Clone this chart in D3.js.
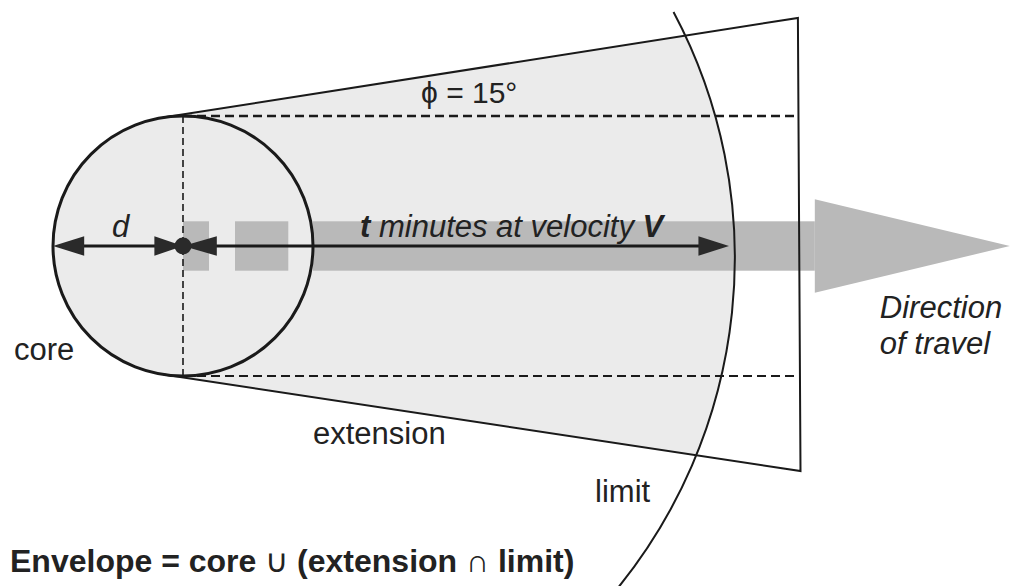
<!DOCTYPE html>
<html>
<head>
<meta charset="utf-8">
<script src="https://cdn.jsdelivr.net/npm/d3@7"></script>
<style>
  html, body { margin: 0; padding: 0; background: #fff; }
  svg { display: block; }
  text { font-family: "Liberation Sans", Arial, Helvetica, sans-serif; fill: #222; }
</style>
</head>
<body>
<svg id="chart" width="1011" height="586"></svg>
<script>
// ---- diagram data (units: core radius d = 1) ----
const coreRadius = [1];
const extensionCorners = [[4.73, 1.754], [4.75, -1.731]];   // far corners of the extension wedge
const limitCircle = [0.215, -0.092, 4.03];                  // centre x, centre y, radius
const limitAngles = [-28.0, 40];                            // visible arc (degrees)
const velocityArrow = [-1, 4.2];                            // from core edge to end of t·V
const bandSegments = [[0, 0.2], [0.4, 0.81], [1.0, 4.86]];  // grey direction-of-travel band
const bandHalf = [0.19];
const bandHead = [4.86, 6.36, 0.36];                        // base x, tip x, half height
const labels = [
  { text: "core", x: -1.3, y: -0.88, size: 31, style: "normal", weight: "normal" },
  { text: "extension", x: 1.0, y: -1.52, size: 31, style: "normal", weight: "normal" },
  { text: "limit", x: 3.17, y: -1.97, size: 31, style: "normal", weight: "normal" },
  { text: "Direction", x: 5.36, y: -0.55, size: 31, style: "italic", weight: "normal" },
  { text: "of travel", x: 5.36, y: -0.83, size: 31, style: "italic", weight: "normal" }
];

// ---- scales ----
const x = d3.scaleLinear().domain([0, 1]).range([183, 313]);
const y = d3.scaleLinear().domain([0, 1]).range([246, 116]);
const px = v => x(v) - x(0);

const svg = d3.select("#chart");
const R = coreRadius[0];

// tangent points from an external point to the core
function tangent(P, sign) {
  const d = Math.hypot(P[0], P[1]);
  const th = Math.atan2(P[1], P[0]);
  const b = Math.acos(R / d);
  const a = th + sign * b;
  return [R * Math.cos(a), R * Math.sin(a)];
}
const T1 = tangent(extensionCorners[0], 1);
const T2 = tangent(extensionCorners[1], -1);

const defs = svg.append("defs");
defs.append("clipPath").attr("id", "limitClip")
  .append("circle")
  .attr("cx", x(limitCircle[0])).attr("cy", y(limitCircle[1])).attr("r", px(limitCircle[2]));

const fillCol = "#ebebeb";
const line = d3.line().x(d => x(d[0])).y(d => y(d[1]));

// extension ∩ limit
svg.append("path")
  .attr("clip-path", "url(#limitClip)")
  .attr("d", line([[0, 0], T1, extensionCorners[0], extensionCorners[1], T2]) + "Z")
  .attr("fill", fillCol);
// core
svg.append("circle").attr("cx", x(0)).attr("cy", y(0)).attr("r", px(R)).attr("fill", fillCol);

// grey band
const bandCol = "#b9b9b9";
svg.selectAll("rect.band").data(bandSegments).join("rect")
  .attr("class", "band")
  .attr("x", d => x(d[0])).attr("width", d => x(d[1]) - x(d[0]))
  .attr("y", y(bandHalf[0])).attr("height", y(-bandHalf[0]) - y(bandHalf[0]))
  .attr("fill", bandCol);
svg.append("path")
  .attr("d", line([[bandHead[0], bandHead[2]], [bandHead[1], 0], [bandHead[0], -bandHead[2]]]) + "Z")
  .attr("fill", bandCol);

// dashed guides
svg.append("path").attr("d", line([[0, R], [extensionCorners[0][0], R]]))
  .attr("stroke", "#1a1a1a").attr("stroke-width", 2.4).attr("stroke-dasharray", "9,5").attr("fill", "none");
svg.append("path").attr("d", line([[0, -R], [extensionCorners[0][0], -R]]))
  .attr("stroke", "#1a1a1a").attr("stroke-width", 1.8).attr("stroke-dasharray", "9,5").attr("fill", "none");
svg.append("path").attr("d", line([[0, R], [0, -R]]))
  .attr("stroke", "#1a1a1a").attr("stroke-width", 1.6).attr("stroke-dasharray", "7,4").attr("fill", "none");

// extension wedge outline
svg.append("path").attr("d", line([T1, extensionCorners[0], extensionCorners[1], T2]))
  .attr("stroke", "#1a1a1a").attr("stroke-width", 2).attr("fill", "none");

// core outline
svg.append("circle").attr("cx", x(0)).attr("cy", y(0)).attr("r", px(R))
  .attr("fill", "none").attr("stroke", "#1a1a1a").attr("stroke-width", 3);

// limit arc
const arcPath = d3.path();
arcPath.arc(x(limitCircle[0]), y(limitCircle[1]), px(limitCircle[2]),
  limitAngles[0] * Math.PI / 180, limitAngles[1] * Math.PI / 180);
svg.append("path").attr("d", arcPath.toString())
  .attr("fill", "none").attr("stroke", "#1a1a1a").attr("stroke-width", 2);

// velocity / diameter arrow
svg.append("path").attr("d", line([[velocityArrow[0] + 0.1, 0], [velocityArrow[1] - 0.1, 0]]))
  .attr("stroke", "#1a1a1a").attr("stroke-width", 3.2);
const hh = 0.075;
const heads = [
  [[velocityArrow[0], 0], [velocityArrow[0] + 0.24, hh], [velocityArrow[0] + 0.24, -hh]],
  [[0, 0], [-0.22, hh], [-0.22, -hh]],
  [[0, 0], [0.26, hh], [0.26, -hh]],
  [[velocityArrow[1], 0], [velocityArrow[1] - 0.235, hh], [velocityArrow[1] - 0.235, -hh]]
];
svg.selectAll("path.head").data(heads).join("path")
  .attr("class", "head").attr("d", d => line(d) + "Z").attr("fill", "#2a2a2a");
svg.append("circle").attr("cx", x(0)).attr("cy", y(0)).attr("r", 8.5).attr("fill", "#2a2a2a");

// labels
svg.selectAll("text.lbl").data(labels).join("text")
  .attr("class", "lbl")
  .attr("x", d => x(d.x)).attr("y", d => y(d.y))
  .attr("font-size", d => d.size).attr("font-style", d => d.style).attr("font-weight", d => d.weight)
  .text(d => d.text);

svg.append("text").attr("x", 112).attr("y", 237).attr("font-size", 31).attr("font-style", "italic").text("d");

const tv = svg.append("text").attr("x", 360).attr("y", 237).attr("font-size", 31).attr("font-style", "italic");
tv.append("tspan").attr("font-weight", "bold").text("t");
tv.append("tspan").text(" minutes at velocity ");
tv.append("tspan").attr("font-weight", "bold").text("V");

svg.append("text").attr("x", 421).attr("y", 103).attr("font-size", 30).text("ϕ = 15°");

const env = svg.append("text").attr("x", 10).attr("y", 572).attr("font-size", 32).attr("font-weight", "bold");
env.append("tspan").text("Envelope = core ");
env.append("tspan").attr("font-weight", "normal").text("∪");
env.append("tspan").text(" (extension ");
env.append("tspan").attr("font-weight", "normal").text("∩");
env.append("tspan").text(" limit)");
</script>
</body>
</html>
